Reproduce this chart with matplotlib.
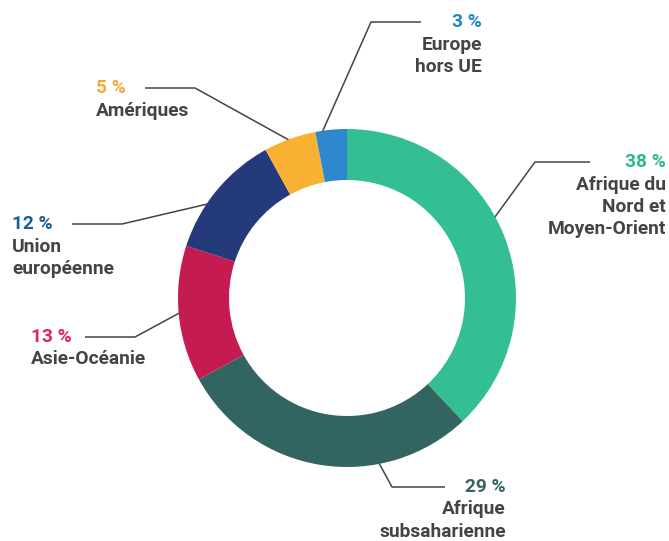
import matplotlib
matplotlib.use("Agg")
import matplotlib.pyplot as plt
import numpy as np

categories = ["Afrique du\nNord et\nMoyen-Orient", "Afrique\nsubsaharienne", "Asie-Océanie",
              "Union\neuropéenne", "Amériques", "Europe\nhors UE"]
values = [38, 29, 13, 12, 5, 3]
pct_labels = ["38 %", "29 %", "13 %", "12 %", "5 %", "3 %"]
colors = ["#34BE93", "#326462", "#C41B50", "#253A7A", "#F8B133", "#2E86CC"]
text_colors = ["#2DB88D", "#336663", "#E0245E", "#1B5E96", "#F6A93A", "#1A8ACB"]

W, H = 669, 541
fig = plt.figure(figsize=(W / 100, H / 100), dpi=100)
ax = fig.add_axes([0, 0, 1, 1])
ax.set_xlim(0, W)
ax.set_ylim(0, H)
ax.axis("off")

cx, cy, R, w = 347, H - 298, 169, 51
wedges, _ = ax.pie(values, colors=colors, startangle=90, counterclock=False,
                   radius=R, center=(cx, cy), wedgeprops=dict(width=w, linewidth=0, zorder=3))
ax.set_xlim(0, W)
ax.set_ylim(0, H)

# label layout: (elbow x, elbow y, end x, text x, ha, fraction along wedge clockwise)
layout = [
    (535, 162, 590, 666, "right", 0.45),
    (392, 487, 445, 506, "right", 0.31),
    (135, 337, 85, 31, "left", 0.51),
    (122, 224, 72, 12, "left", 0.38),
    (195, 88, 145, 96, "left", 0.5),
    (371, 22, 421, 482, "right", 0.2),
]
font = "Roboto"
fs = 13.8
for wdg, lab, pct, tc, (ex, ey, endx, tx, ha, frac) in zip(wedges, categories, pct_labels, text_colors, layout):
    a1, a2 = wdg.theta1, wdg.theta2
    ang = np.deg2rad(a2 - (a2 - a1) * frac)
    sx, sy = cx + (R - 2) * np.cos(ang), cy + (R - 2) * np.sin(ang)
    ax.plot([sx, ex, endx], [sy, H - ey, H - ey], color="#444444", lw=1.1,
            solid_capstyle="butt", zorder=2)
    ax.text(tx, H - ey, pct, ha=ha, va="center", color=tc, fontsize=fs,
            fontweight="bold", family=font)
    for i, line in enumerate(lab.split("\n")):
        ax.text(tx, H - ey - 22.5 * (i + 1), line, ha=ha, va="center", color="#444444",
                fontsize=fs, fontweight="bold", family=font)

fig.savefig("out.png", dpi=100)
